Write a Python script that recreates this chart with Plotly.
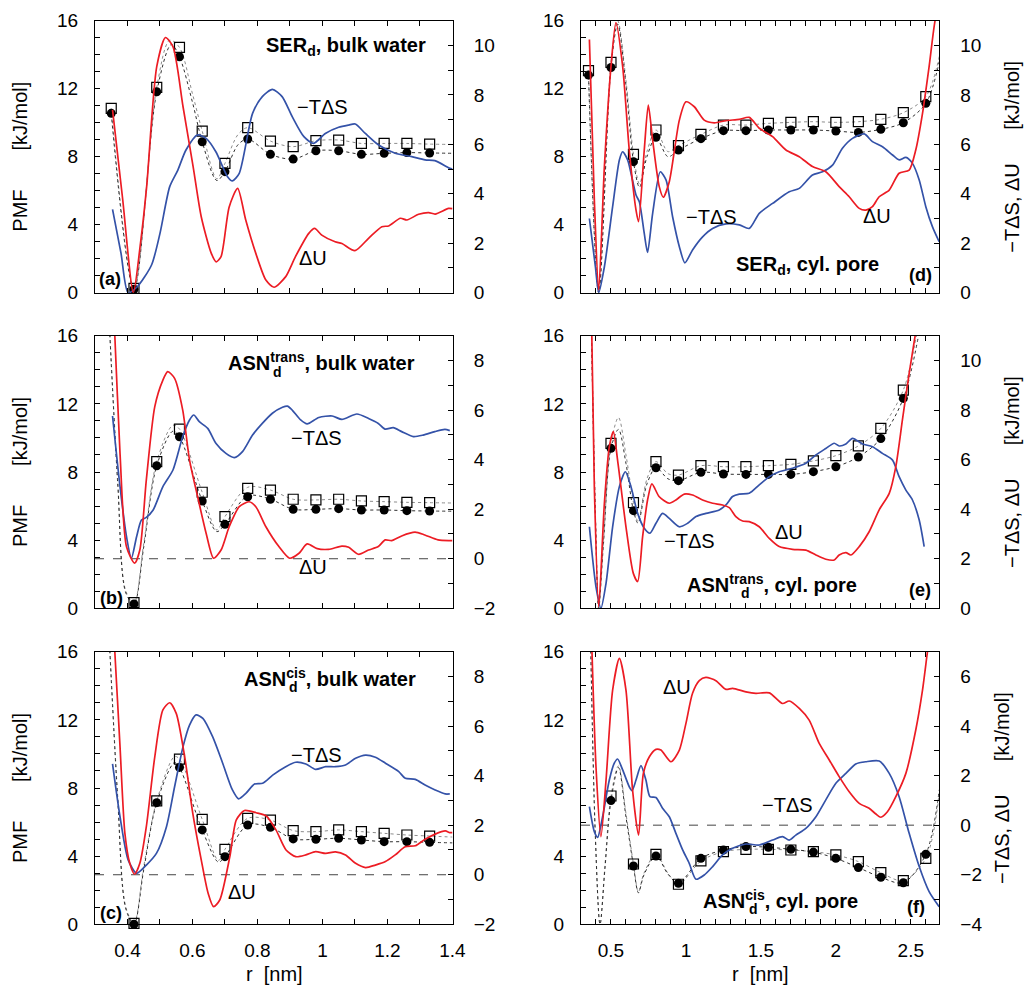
import plotly.graph_objects as go

W, H = 1024, 988
FONT = "Liberation Sans, Arial, Helvetica, sans-serif"
RED = "#ec1c24"
BLUE = "#3452a8"
GRAYDOT = "#8c8c8c"
DARKDOT = "#303030"

# ---------------- sampled PMF points (left axis, kJ/mol) ----------------
r_bulk = [0.35, 0.42, 0.49, 0.56, 0.63, 0.70, 0.77, 0.84, 0.91, 0.98, 1.05, 1.12, 1.19, 1.26, 1.33]
r_pore = [0.35, 0.50, 0.65, 0.80, 0.95, 1.10, 1.25, 1.40, 1.55, 1.70, 1.85, 2.00, 2.15, 2.30, 2.45, 2.60]

# (a) SER_d bulk water
a_r = r_bulk
a_sq = [10.84, 0.25, 12.08, 14.43, 9.51, 7.61, 9.71, 8.92, 8.59, 8.94, 8.98, 8.78, 8.78, 8.78, 8.74]
a_ci = [10.55, 0.20, 11.82, 13.88, 8.88, 7.12, 9.04, 8.14, 7.86, 8.35, 8.35, 8.14, 8.20, 8.24, 8.22]
a_sq_fit = [(0.35, 10.84), (0.42, 0.25), (0.49, 12.08), (0.53, 14.85), (0.56, 14.43), (0.60, 11.7),
            (0.63, 9.51), (0.675, 6.7), (0.70, 7.61), (0.74, 9.3), (0.77, 9.71), (0.84, 8.92),
            (0.91, 8.59), (0.98, 8.94), (1.05, 8.98), (1.12, 8.78), (1.19, 8.78), (1.26, 8.78),
            (1.33, 8.74), (1.40, 8.72)]
a_ci_fit = [(0.35, 10.55), (0.42, 0.20), (0.49, 11.82), (0.535, 14.6), (0.56, 13.88), (0.60, 11.2),
            (0.63, 8.88), (0.675, 6.6), (0.70, 7.12), (0.74, 8.7), (0.77, 9.04), (0.84, 8.14),
            (0.91, 7.86), (0.98, 8.35), (1.05, 8.35), (1.12, 8.14), (1.19, 8.20), (1.26, 8.24),
            (1.33, 8.22), (1.40, 8.20)]
a_du = [(0.354, 7.39), (0.385, 3.8), (0.418, 0.0), (0.44, 2.0), (0.459, 4.29), (0.49, 9.14), (0.517, 10.32),
        (0.54, 9.95), (0.571, 7.52), (0.602, 5.10), (0.627, 3.07), (0.658, 1.59), (0.673, 1.25), (0.688, 1.46),
        (0.713, 3.47), (0.739, 4.22), (0.764, 2.94), (0.795, 1.59), (0.826, 0.51), (0.851, 0.22), (0.887, 0.65),
        (0.917, 1.46), (0.958, 2.40), (0.976, 2.60), (0.998, 2.33), (1.039, 2.06), (1.06, 1.99), (1.10, 1.70),
        (1.142, 2.20), (1.183, 2.67), (1.204, 2.70), (1.24, 3.01), (1.26, 2.94), (1.296, 3.17), (1.327, 3.24),
        (1.347, 3.18), (1.388, 3.41), (1.40, 3.40)]
a_ts = [(0.354, 3.37), (0.38, 1.6), (0.402, 0.0), (0.43, 0.24), (0.474, 1.12), (0.50, 2.4), (0.53, 4.29),
        (0.555, 4.96), (0.58, 5.77), (0.616, 6.38), (0.642, 6.24), (0.672, 5.70), (0.708, 4.69), (0.723, 4.52),
        (0.744, 4.83), (0.785, 7.25), (0.815, 7.93), (0.846, 8.22), (0.876, 7.93), (0.907, 7.12), (0.943, 6.31),
        (0.973, 6.04), (1.009, 6.44), (1.05, 6.69), (1.081, 6.78), (1.101, 6.82), (1.132, 6.44), (1.173, 5.97),
        (1.224, 5.64), (1.275, 5.50), (1.316, 5.37), (1.346, 5.34), (1.392, 5.03), (1.40, 5.0)]

# (b) ASN_d^trans bulk water
b_r = r_bulk[1:]
b_sq = [0.33, 8.61, 10.52, 6.81, 5.38, 7.04, 6.94, 6.40, 6.36, 6.40, 6.30, 6.26, 6.22, 6.20]
b_ci = [0.25, 8.37, 10.07, 6.30, 4.93, 6.55, 6.40, 5.81, 5.81, 5.85, 5.77, 5.77, 5.73, 5.71]
b_sq_fit = [(0.342, 17.5), (0.37, 7.5), (0.395, 1.0), (0.42, 0.33), (0.45, 3.8), (0.49, 8.61), (0.54, 10.75),
            (0.56, 10.52), (0.63, 6.81), (0.675, 4.6), (0.70, 5.38), (0.77, 7.1), (0.84, 6.94), (0.91, 6.40),
            (0.98, 6.36), (1.05, 6.40), (1.12, 6.30), (1.19, 6.26), (1.26, 6.22), (1.33, 6.20), (1.40, 6.18)]
b_ci_fit = [(0.342, 17.5), (0.37, 7.3), (0.395, 0.9), (0.42, 0.25), (0.45, 3.6), (0.49, 8.37), (0.54, 10.4),
            (0.56, 10.07), (0.63, 6.30), (0.675, 4.5), (0.70, 4.93), (0.77, 6.6), (0.84, 6.40), (0.91, 5.81),
            (0.98, 5.81), (1.05, 5.85), (1.12, 5.77), (1.19, 5.77), (1.26, 5.73), (1.33, 5.71), (1.40, 5.70)]
b_du = [(0.352, 11.0), (0.361, 9.0), (0.377, 4.25), (0.397, 0.48), (0.422, -0.18), (0.438, 0.35), (0.458, 3.18),
        (0.484, 6.14), (0.509, 7.21), (0.524, 7.55), (0.545, 7.28), (0.57, 6.0), (0.591, 3.98), (0.616, 2.50),
        (0.642, 1.03), (0.665, 0.02), (0.688, 0.35), (0.713, 1.29), (0.744, 2.10), (0.774, 2.30), (0.795, 2.10),
        (0.826, 1.29), (0.866, 0.49), (0.899, 0.02), (0.928, 0.22), (0.953, 0.60), (0.984, 0.41), (1.019, 0.38),
        (1.06, 0.51), (1.081, 0.46), (1.111, 0.18), (1.142, 0.35), (1.172, 0.49), (1.193, 0.76), (1.213, 0.73),
        (1.244, 0.92), (1.285, 1.07), (1.315, 0.96), (1.356, 0.76), (1.392, 0.73), (1.40, 0.73)]
b_ts = [(0.354, 5.76), (0.377, 2.91), (0.397, 0.89), (0.412, 0.02), (0.428, 0.89), (0.443, 1.56), (0.458, 1.67),
        (0.479, 1.97), (0.509, 2.91), (0.54, 3.58), (0.57, 4.93), (0.591, 5.60), (0.604, 5.80), (0.621, 5.53),
        (0.647, 5.26), (0.672, 4.66), (0.703, 4.25), (0.729, 4.08), (0.754, 4.32), (0.785, 4.99), (0.815, 5.46),
        (0.846, 5.87), (0.877, 6.11), (0.892, 6.16), (0.907, 6.0), (0.933, 5.60), (0.953, 5.44), (0.989, 5.70),
        (1.03, 5.76), (1.06, 5.62), (1.106, 5.84), (1.142, 5.66), (1.172, 5.46), (1.193, 5.23), (1.218, 5.29),
        (1.244, 5.13), (1.28, 4.93), (1.31, 4.99), (1.346, 5.13), (1.377, 5.22), (1.392, 5.17)]

# (c) ASN_d^cis bulk water
c_r = r_bulk[1:]
c_sq = [0.06, 7.24, 9.70, 6.16, 4.40, 6.22, 6.12, 5.50, 5.44, 5.54, 5.44, 5.34, 5.24, 5.18]
c_ci = [0.00, 7.14, 9.21, 5.54, 3.97, 5.83, 5.69, 5.01, 4.99, 5.05, 4.95, 4.85, 4.85, 4.81]
c_sq_fit = [(0.342, 17.5), (0.37, 7.5), (0.395, 1.0), (0.42, 0.06), (0.45, 3.4), (0.49, 7.24), (0.545, 9.85),
            (0.56, 9.70), (0.63, 6.16), (0.68, 3.75), (0.70, 4.40), (0.77, 6.22), (0.84, 6.12), (0.91, 5.50),
            (0.98, 5.44), (1.05, 5.54), (1.12, 5.44), (1.19, 5.34), (1.26, 5.24), (1.33, 5.18), (1.40, 5.12)]
c_ci_fit = [(0.342, 17.5), (0.37, 7.3), (0.395, 0.9), (0.42, 0.0), (0.45, 3.2), (0.49, 7.14), (0.545, 9.5),
            (0.56, 9.21), (0.63, 5.54), (0.68, 3.65), (0.70, 3.97), (0.77, 5.83), (0.84, 5.69), (0.91, 5.01),
            (0.98, 4.99), (1.05, 5.05), (1.12, 4.95), (1.19, 4.85), (1.26, 4.85), (1.33, 4.81), (1.40, 4.78)]
c_du = [(0.352, 11.0), (0.361, 9.0), (0.377, 5.17), (0.392, 1.67), (0.407, 0.46), (0.422, 0.02), (0.438, 0.46),
        (0.458, 1.94), (0.484, 4.76), (0.509, 6.65), (0.53, 6.94), (0.55, 6.51), (0.576, 4.76), (0.601, 2.48),
        (0.627, 0.60), (0.648, -0.74), (0.665, -1.29), (0.684, -1.02), (0.715, 0.73), (0.735, 2.21), (0.76, 2.59),
        (0.796, 2.50), (0.827, 2.37), (0.857, 1.81), (0.888, 1.00), (0.918, 0.73), (0.949, 0.80), (0.979, 0.93),
        (1.01, 0.86), (1.04, 0.92), (1.071, 0.80), (1.102, 0.46), (1.133, 0.29), (1.163, 0.39), (1.194, 0.53),
        (1.224, 0.80), (1.255, 1.13), (1.286, 1.17), (1.316, 1.43), (1.347, 1.64), (1.378, 1.77), (1.392, 1.70),
        (1.40, 1.70)]
c_ts = [(0.354, 4.47), (0.377, 2.34), (0.402, 0.60), (0.428, 0.06), (0.458, 0.39), (0.489, 0.86), (0.52, 1.94),
        (0.545, 3.55), (0.571, 5.17), (0.591, 6.04), (0.611, 6.45), (0.632, 6.31), (0.662, 5.57), (0.693, 4.50),
        (0.723, 3.42), (0.742, 3.06), (0.765, 3.29), (0.791, 3.66), (0.816, 3.69), (0.847, 4.02), (0.887, 4.36),
        (0.918, 4.54), (0.949, 4.47), (0.979, 4.25), (1.01, 4.36), (1.04, 4.36), (1.071, 4.43), (1.102, 4.70),
        (1.133, 4.83), (1.163, 4.74), (1.194, 4.50), (1.235, 4.16), (1.255, 3.89), (1.286, 3.85), (1.316, 3.62),
        (1.347, 3.42), (1.378, 3.26), (1.392, 3.26)]

# (d) SER_d cylindrical pore
d_r = r_pore
d_sq = [13.06, 13.55, 8.14, 9.57, 8.65, 9.31, 9.86, 9.86, 9.96, 10.02, 10.06, 10.02, 10.06, 10.20, 10.59, 11.53]
d_ci = [12.80, 13.25, 7.71, 9.14, 8.39, 9.06, 9.53, 9.53, 9.57, 9.57, 9.57, 9.51, 9.43, 9.61, 10.00, 11.14]
d_sq_fit = [(0.35, 13.06), (0.418, 0.1), (0.50, 13.55), (0.545, 16.0), (0.60, 12.5), (0.65, 8.14), (0.69, 6.4),
            (0.74, 8.3), (0.80, 9.57), (0.88, 8.3), (0.95, 8.65), (1.10, 9.31), (1.25, 9.86), (1.40, 9.86),
            (1.55, 9.96), (1.70, 10.02), (1.85, 10.06), (2.00, 10.02), (2.15, 10.06), (2.30, 10.20), (2.45, 10.59),
            (2.60, 11.53), (2.69, 13.9)]
d_ci_fit = [(0.35, 12.80), (0.418, 0.0), (0.50, 13.25), (0.545, 15.8), (0.60, 12.2), (0.65, 7.71), (0.69, 6.2),
            (0.74, 8.0), (0.80, 9.14), (0.88, 8.0), (0.95, 8.39), (1.10, 9.06), (1.25, 9.53), (1.40, 9.53),
            (1.55, 9.57), (1.70, 9.57), (1.85, 9.57), (2.00, 9.51), (2.15, 9.43), (2.30, 9.61), (2.45, 10.00),
            (2.60, 11.14), (2.69, 13.6)]
d_du = [(0.356, 10.24), (0.389, 3.75), (0.418, 0.11), (0.456, 5.10), (0.50, 9.14), (0.533, 10.92), (0.578, 9.14),
        (0.622, 5.77), (0.667, 3.34), (0.684, 2.87), (0.722, 5.77), (0.749, 7.59), (0.778, 6.17), (0.822, 4.29),
        (0.849, 3.86), (0.889, 4.49), (0.956, 6.98), (1.0, 7.72), (1.056, 7.52), (1.122, 6.98), (1.189, 6.87),
        (1.267, 6.96), (1.356, 7.01), (1.422, 7.09), (1.489, 6.65), (1.578, 6.31), (1.667, 5.77), (1.756, 5.50),
        (1.844, 5.10), (1.933, 4.89), (2.022, 4.29), (2.089, 3.88), (2.156, 3.41), (2.20, 3.34), (2.244, 3.48),
        (2.289, 3.88), (2.356, 4.15), (2.422, 4.83), (2.489, 4.96), (2.533, 5.77), (2.578, 7.25), (2.622, 9.14),
        (2.662, 11.0), (2.69, 11.6)]
d_ts = [(0.356, 3.0), (0.396, 1.05), (0.418, 0.0), (0.456, 1.05), (0.511, 3.48), (0.556, 5.37), (0.578, 5.70),
        (0.611, 5.37), (0.667, 3.95), (0.689, 3.68), (0.722, 2.40), (0.744, 1.63), (0.778, 3.21), (0.829, 4.89),
        (0.867, 4.56), (0.911, 3.07), (0.956, 1.86), (0.993, 1.21), (1.044, 1.73), (1.111, 2.26), (1.178, 2.60),
        (1.267, 2.78), (1.356, 2.74), (1.422, 2.60), (1.489, 3.21), (1.578, 3.61), (1.689, 4.08), (1.756, 4.22),
        (1.844, 4.76), (1.911, 4.89), (1.978, 5.16), (2.044, 5.84), (2.111, 6.24), (2.189, 6.42), (2.244, 6.11),
        (2.311, 5.90), (2.378, 5.57), (2.422, 5.37), (2.467, 5.47), (2.511, 5.23), (2.556, 4.56), (2.60, 3.48),
        (2.644, 2.67), (2.689, 2.06)]

# (e) ASN_d^trans cylindrical pore
e_r = r_pore[1:15]
e_sq = [9.68, 6.20, 8.61, 7.82, 8.37, 8.31, 8.31, 8.37, 8.45, 8.65, 8.96, 9.53, 10.56, 12.81]
e_ci = [9.39, 5.73, 8.25, 7.49, 7.98, 7.88, 7.86, 7.86, 7.86, 8.02, 8.31, 8.88, 9.96, 12.32]
e_sq_fit = [(0.368, 17.0), (0.395, 6.0), (0.418, 0.1), (0.45, 4.0), (0.50, 9.68), (0.55, 11.2), (0.60, 9.0),
            (0.65, 6.20), (0.68, 5.1), (0.74, 7.6), (0.80, 8.61), (0.88, 7.9), (0.95, 7.82), (1.10, 8.37),
            (1.25, 8.31), (1.40, 8.31), (1.55, 8.37), (1.70, 8.45), (1.85, 8.65), (2.00, 8.96), (2.15, 9.53),
            (2.30, 10.56), (2.45, 12.81), (2.55, 16.6)]
e_ci_fit = [(0.368, 17.0), (0.395, 5.8), (0.418, 0.0), (0.45, 3.8), (0.50, 9.39), (0.55, 10.5), (0.60, 8.5),
            (0.65, 5.73), (0.68, 5.0), (0.74, 7.3), (0.80, 8.25), (0.88, 7.6), (0.95, 7.49), (1.10, 7.98),
            (1.25, 7.88), (1.40, 7.86), (1.55, 7.86), (1.70, 7.86), (1.85, 8.02), (2.00, 8.31), (2.15, 8.88),
            (2.30, 9.96), (2.45, 12.32), (2.56, 16.4)]
e_du = [(0.368, 12.5), (0.389, 4.91), (0.418, 0.07), (0.456, 4.24), (0.489, 6.52), (0.516, 7.13), (0.544, 5.98),
        (0.60, 3.29), (0.649, 1.41), (0.678, 1.08), (0.711, 2.89), (0.744, 4.37), (0.773, 5.02), (0.822, 4.50),
        (0.889, 4.24), (0.933, 4.37), (0.989, 4.61), (1.044, 4.57), (1.111, 4.37), (1.178, 4.24), (1.244, 4.17),
        (1.289, 4.06), (1.333, 3.70), (1.378, 3.52), (1.422, 3.50), (1.489, 3.29), (1.556, 2.82), (1.622, 2.49),
        (1.711, 2.38), (1.80, 2.35), (1.867, 2.15), (1.933, 1.98), (1.989, 1.95), (2.022, 2.15), (2.067, 2.25),
        (2.10, 2.15), (2.156, 2.49), (2.222, 3.09), (2.289, 3.97), (2.356, 4.64), (2.40, 5.72), (2.444, 7.60),
        (2.489, 9.48), (2.529, 11.0), (2.54, 11.5)]
e_ts = [(0.356, 3.29), (0.40, 0.87), (0.433, 0.0), (0.467, 1.01), (0.511, 3.29), (0.556, 4.91), (0.596, 5.51),
        (0.633, 4.91), (0.678, 3.83), (0.722, 3.23), (0.76, 3.03), (0.80, 3.43), (0.844, 3.83), (0.889, 3.63),
        (0.956, 3.29), (1.011, 3.43), (1.067, 3.70), (1.133, 3.83), (1.222, 3.97), (1.267, 4.17), (1.311, 4.51),
        (1.356, 4.61), (1.422, 4.64), (1.489, 4.98), (1.556, 5.31), (1.622, 5.51), (1.711, 5.65), (1.80, 5.85),
        (1.867, 6.19), (1.933, 6.45), (1.989, 6.66), (2.022, 6.55), (2.067, 6.63), (2.111, 6.86), (2.178, 6.63),
        (2.244, 6.52), (2.311, 6.25), (2.378, 5.98), (2.422, 5.31), (2.467, 4.77), (2.511, 4.37), (2.556, 3.56),
        (2.589, 2.49)]

# (f) ASN_d^cis cylindrical pore
f_r = r_pore[1:]
f_sq = [7.53, 3.54, 4.11, 2.35, 3.72, 4.26, 4.40, 4.40, 4.36, 4.26, 4.07, 3.68, 3.03, 2.56, 3.87]
f_ci = [7.26, 3.42, 4.01, 2.41, 3.87, 4.36, 4.56, 4.52, 4.40, 4.24, 3.87, 3.33, 2.76, 2.44, 4.11]
f_sq_fit = [(0.362, 17.5), (0.395, 5.5), (0.427, 0.0), (0.46, 3.5), (0.50, 7.53), (0.55, 9.3), (0.60, 6.5),
            (0.65, 3.54), (0.683, 1.9), (0.72, 3.0), (0.80, 4.11), (0.88, 3.0), (0.95, 2.35), (1.10, 3.72),
            (1.25, 4.26), (1.40, 4.40), (1.55, 4.40), (1.70, 4.36), (1.85, 4.26), (2.00, 4.07), (2.15, 3.68),
            (2.30, 3.03), (2.45, 2.56), (2.60, 3.87), (2.69, 7.7)]
f_ci_fit = [(0.362, 17.5), (0.395, 5.3), (0.427, 0.0), (0.46, 3.3), (0.50, 7.26), (0.55, 9.2), (0.60, 6.3),
            (0.65, 3.42), (0.683, 1.85), (0.72, 2.9), (0.80, 4.01), (0.88, 2.95), (0.95, 2.41), (1.10, 3.87),
            (1.25, 4.36), (1.40, 4.56), (1.55, 4.52), (1.70, 4.40), (1.85, 4.24), (2.00, 3.87), (2.15, 3.33),
            (2.30, 2.76), (2.45, 2.44), (2.60, 4.11), (2.69, 7.9)]
f_du = [(0.366, 8.5), (0.40, 2.36), (0.433, -0.46), (0.467, 1.82), (0.511, 5.45), (0.556, 6.73), (0.60, 5.45),
        (0.644, 1.42), (0.684, -0.40), (0.716, 2.09), (0.756, 2.76), (0.80, 3.06), (0.833, 3.03), (0.90, 2.56),
        (0.956, 3.03), (1.0, 4.11), (1.044, 5.32), (1.089, 5.83), (1.133, 5.96), (1.20, 5.83), (1.267, 5.48),
        (1.311, 5.52), (1.40, 5.38), (1.467, 5.32), (1.556, 5.34), (1.644, 4.91), (1.689, 5.01), (1.756, 4.71),
        (1.822, 4.24), (1.889, 3.30), (1.956, 2.63), (2.022, 1.96), (2.089, 1.35), (2.156, 0.88), (2.222, 0.68),
        (2.267, 0.45), (2.30, 0.32), (2.344, 0.54), (2.40, 1.15), (2.467, 2.09), (2.533, 3.84), (2.578, 5.45),
        (2.611, 7.0), (2.625, 7.6)]
f_ts = [(0.356, 0.75), (0.389, -0.26), (0.411, -0.49), (0.444, 0.34), (0.489, 1.82), (0.522, 2.50), (0.544, 2.67),
        (0.578, 2.23), (0.622, 1.55), (0.64, 1.39), (0.667, 1.82), (0.70, 2.40), (0.733, 1.82), (0.76, 1.15),
        (0.80, 1.12), (0.844, 0.68), (0.889, 0.34), (0.933, -0.33), (0.978, -1.0), (1.022, -1.54), (1.067, -2.18),
        (1.122, -2.01), (1.178, -1.67), (1.244, -1.20), (1.311, -0.93), (1.40, -0.76), (1.489, -0.80),
        (1.578, -0.60), (1.644, -0.46), (1.689, -0.60), (1.733, -0.40), (1.80, -0.13), (1.867, 0.34), (1.933, 1.02),
        (2.0, 1.69), (2.067, 2.09), (2.133, 2.47), (2.20, 2.56), (2.289, 2.59), (2.356, 2.09), (2.422, 1.15),
        (2.489, -0.33), (2.556, -1.67), (2.622, -2.68), (2.689, -3.29)]

# ---------------- panel layout ----------------
XDOM = [(95, 452.7), (581, 939.3)]
YDOM = [(20.7, 292.7), (335.7, 608.3), (651.7, 924.3)]
XRANGE = [(0.3, 1.401), (0.3, 2.69)]
XTICK = [(0.4, 0.2, 0.1), (0.5, 0.5, 0.1)]

panels = [
    dict(col=0, row=0, r=a_r, sq=a_sq, ci=a_ci, sqfit=a_sq_fit, cifit=a_ci_fit, du=a_du, ts=a_ts, y2=(0, 11), zero=False),
    dict(col=0, row=1, r=b_r, sq=b_sq, ci=b_ci, sqfit=b_sq_fit, cifit=b_ci_fit, du=b_du, ts=b_ts, y2=(-2, 9), zero=True),
    dict(col=0, row=2, r=c_r, sq=c_sq, ci=c_ci, sqfit=c_sq_fit, cifit=c_ci_fit, du=c_du, ts=c_ts, y2=(-2, 9), zero=True),
    dict(col=1, row=0, r=d_r, sq=d_sq, ci=d_ci, sqfit=d_sq_fit, cifit=d_ci_fit, du=d_du, ts=d_ts, y2=(0, 11), zero=False),
    dict(col=1, row=1, r=e_r, sq=e_sq, ci=e_ci, sqfit=e_sq_fit, cifit=e_ci_fit, du=e_du, ts=e_ts, y2=(0, 11), zero=False),
    dict(col=1, row=2, r=f_r, sq=f_sq, ci=f_ci, sqfit=f_sq_fit, cifit=f_ci_fit, du=f_du, ts=f_ts, y2=(-4, 7), zero=True),
]


def unzip(pairs):
    return [p[0] for p in pairs], [p[1] for p in pairs]


def pp(x, y):
    return x / W, 1 - y / H


fig = go.Figure()
layout = {}
shapes = []
TICKFONT = dict(family=FONT, size=19, color="black")

for k, p in enumerate(panels):
    xn = "x" if k == 0 else f"x{k+1}"
    yl = "y" if k == 0 else f"y{2*k+1}"
    yr = f"y{2*k+2}"
    xkey = "xaxis" if k == 0 else f"xaxis{k+1}"
    ylkey = "yaxis" if k == 0 else f"yaxis{2*k+1}"
    yrkey = f"yaxis{2*k+2}"
    c, r = p["col"], p["row"]
    x0, x1 = XDOM[c]
    yt, yb = YDOM[r]
    t0, dt, mdt = XTICK[c]

    layout[xkey] = dict(
        domain=[x0 / W, x1 / W], range=list(XRANGE[c]), anchor=yl, automargin=False,
        showline=True, linecolor="black", linewidth=1, mirror="ticks",
        ticks="inside", ticklen=5, tickwidth=1, tickcolor="black",
        tick0=t0, dtick=dt, minor=dict(dtick=mdt, ticks="inside", ticklen=5, tickcolor="black", showgrid=False),
        showgrid=False, zeroline=False, showticklabels=(r == 2), tickfont=TICKFONT,
        ticklabelstandoff=9,
    )
    layout[ylkey] = dict(
        domain=[1 - yb / H, 1 - yt / H], range=[0, 16], anchor=xn, automargin=False,
        showline=True, linecolor="black", linewidth=1, mirror=True,
        ticks="inside", ticklen=5, tickwidth=1, tickcolor="black",
        tick0=0, dtick=4, minor=dict(dtick=1, ticks="inside", ticklen=5, tickcolor="black", showgrid=False),
        showgrid=False, zeroline=False, tickfont=TICKFONT, ticklabelstandoff=12,
    )
    layout[yrkey] = dict(
        overlaying=yl, side="right", anchor=xn, range=list(p["y2"]), automargin=False,
        showline=False, ticks="inside", ticklen=5, tickwidth=1, tickcolor="black",
        tick0=0, dtick=2, minor=dict(dtick=1, ticks="inside", ticklen=5, tickcolor="black", showgrid=False),
        showgrid=False, zeroline=False, tickfont=TICKFONT, ticklabelstandoff=20,
    )

    if p["zero"]:
        shapes.append(dict(type="line", xref=f"{xn} domain", x0=0, x1=1, yref=yr, y0=0, y1=0,
                           line=dict(color="#444444", width=1, dash="dash"), layer="below"))

    # -T dS (blue) and dU (red) on the right axis
    tx, ty = unzip(p["ts"])
    fig.add_trace(go.Scatter(x=tx, y=ty, xaxis=xn, yaxis=yr, mode="lines",
                             line=dict(color=BLUE, width=1.7, shape="spline", smoothing=0.7)))
    ux, uy = unzip(p["du"])
    fig.add_trace(go.Scatter(x=ux, y=uy, xaxis=xn, yaxis=yr, mode="lines",
                             line=dict(color=RED, width=1.7, shape="spline", smoothing=0.7)))
    # dotted PMF curves
    sx, sy = unzip(p["sqfit"])
    fig.add_trace(go.Scatter(x=sx, y=sy, xaxis=xn, yaxis=yl, mode="lines",
                             line=dict(color=GRAYDOT, width=1.0, dash="dot", shape="spline", smoothing=0.9)))
    cx, cy = unzip(p["cifit"])
    fig.add_trace(go.Scatter(x=cx, y=cy, xaxis=xn, yaxis=yl, mode="lines",
                             line=dict(color=DARKDOT, width=1.0, dash="dot", shape="spline", smoothing=0.9)))
    # sampled points
    fig.add_trace(go.Scatter(x=p["r"], y=p["sq"], xaxis=xn, yaxis=yl, mode="markers", cliponaxis=False,
                             marker=dict(symbol="square-open", size=10, color="black", line=dict(width=1.2))))
    fig.add_trace(go.Scatter(x=p["r"], y=p["ci"], xaxis=xn, yaxis=yl, mode="markers", cliponaxis=False,
                             marker=dict(symbol="circle", size=9, color="black")))

# ---------------- text ----------------
ann = []


def text(x, y, s, size=20, bold=False, xanchor="center", yanchor="middle", angle=0):
    X, Y = pp(x, y)
    ann.append(dict(x=X, y=Y, xref="paper", yref="paper", text=(f"<b>{s}</b>" if bold else s),
                    showarrow=False, xanchor=xanchor, yanchor=yanchor, textangle=angle,
                    font=dict(family=FONT, size=size, color="black")))


MTS = "\u2212T\u0394S"
DU = "\u0394U"
NB = "\u00a0"

# panel (a)
text(428, 46, "SER<sub>d</sub>, bulk water", bold=True, xanchor="right")
text(322, 107, MTS)
text(313, 258, DU)
text(110, 279, "(a)", size=18, bold=True)
# panel (b)
text(226, 362, "ASN<sup>trans</sup>, bulk water", bold=True, xanchor="left")
text(271, 372, "d", size=14, bold=True, xanchor="left")
text(316, 438, MTS)
text(313, 567, DU)
text(111, 598, "(b)", size=18, bold=True)
# panel (c)
text(242, 677, "ASN<sup>cis</sup>, bulk water", bold=True, xanchor="left")
text(287, 687, "d", size=14, bold=True, xanchor="left")
text(316, 755, MTS)
text(242, 892, DU)
text(111, 913, "(c)", size=18, bold=True)
# panel (d)
text(807, 265, "SER<sub>d</sub>, cyl. pore", bold=True)
text(711, 217, MTS)
text(877, 216, DU)
text(920, 275, "(d)", size=18, bold=True)
# panel (e)
text(685, 583, "ASN<sup>trans</sup>, cyl. pore", bold=True, xanchor="left")
text(739, 593, "d", size=14, bold=True, xanchor="left")
text(689, 541, MTS)
text(789, 532, DU)
text(920, 590, "(e)", size=18, bold=True)
# panel (f)
text(701, 899, "ASN<sup>cis</sup>, cyl. pore", bold=True, xanchor="left")
text(747, 909, "d", size=14, bold=True, xanchor="left")
text(787, 805, MTS)
text(677, 687, DU)
text(916, 907, "(f)", size=18, bold=True)

# axis titles
left_title = "PMF" + NB * 7 + "[kJ/mol]"
right_title = MTS + ", " + DU + NB * 6 + "[kJ/mol]"
for yc in (156.7, 472.0, 788.0):
    text(20, yc, left_title, angle=-90)
text(1012, 156.7, right_title, angle=-90)
text(1012, 472.0, right_title, angle=-90)
text(1002, 788.0, right_title, angle=-90)
text(274, 974, "r" + NB * 2 + "[nm]")
text(760, 974, "r" + NB * 2 + "[nm]")

fig.update_layout(
    width=W, height=H, autosize=False,
    margin=dict(l=0, r=0, t=0, b=0, pad=0, autoexpand=False),
    paper_bgcolor="white", plot_bgcolor="white", showlegend=False,
    annotations=ann, shapes=shapes, font=dict(family=FONT, color="black"),
    **layout,
)

fig.write_html("out.html", config={"responsive": False})
